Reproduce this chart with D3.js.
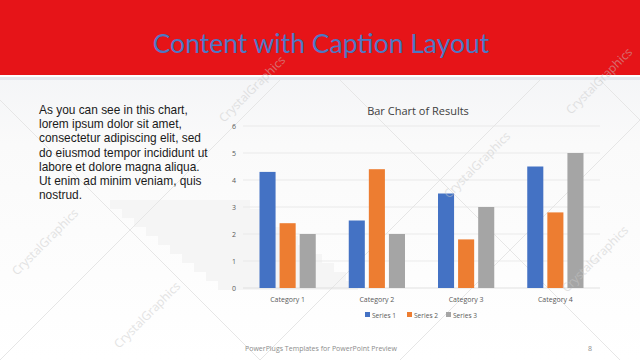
<!DOCTYPE html>
<html><head><meta charset="utf-8">
<script src="https://cdn.jsdelivr.net/npm/d3@7"></script>
<style>html,body{margin:0;padding:0;background:#fff;}svg{display:block;}</style>
</head><body>
<script>
const categories = ["Category 1", "Category 2", "Category 3", "Category 4"];
const seriesNames = ["Series 1", "Series 2", "Series 3"];
const series1 = [4.3, 2.5, 3.5, 4.5];
const series2 = [2.4, 4.4, 1.8, 2.8];
const series3 = [2, 2, 3, 5];
const yTicks = [0, 1, 2, 3, 4, 5, 6];
const colors = ["#4472C4", "#ED7D31", "#A5A5A5"];
const slideTitle = "Content with Caption Layout";
const chartTitle = "Bar Chart of Results";
const bodyLines = ["As you can see in this chart,", "lorem ipsum dolor sit amet,", "consectetur adipiscing elit, sed", "do eiusmod tempor incididunt ut", "labore et dolore magna aliqua.", "Ut enim ad minim veniam, quis", "nostrud."];
const footer = "PowerPlugs Templates for PowerPoint  Preview";
const pageNum = "8";

const W = 640, H = 360;
const svg = d3.select("body").append("svg").attr("width", W).attr("height", H);
const defs = svg.append("defs");
const bg = defs.append("linearGradient").attr("id","bg").attr("x1",0).attr("y1",0).attr("x2",0).attr("y2",1);
bg.append("stop").attr("offset","0%").attr("stop-color","#eef0f4");
bg.append("stop").attr("offset","40%").attr("stop-color","#fafafa");
bg.append("stop").attr("offset","100%").attr("stop-color","#ffffff");
svg.append("rect").attr("width",W).attr("height",H).attr("fill","url(#bg)");

// very faint stair shapes in background
const stairs = svg.append("g").attr("fill","#f5f5f5");
for (let i = 0; i < 10; i++) {
  stairs.append("rect").attr("x", 110 + i*12).attr("y", 200 + i*9).attr("width", 140).attr("height", 9);
}

// faint diagonal lines
const diag = svg.append("g").attr("stroke","#e6e6e6").attr("stroke-width",1);
[[ -60,420, 420,-60],[200,420,640,-20],[0,100,260,360],[260,0,620,360],[520,0,640,120],[400,360,640,120]].forEach(l=>{
  diag.append("line").attr("x1",l[0]).attr("y1",l[1]).attr("x2",l[2]).attr("y2",l[3]);
});

// header
svg.append("rect").attr("x",0).attr("y",0).attr("width",W).attr("height",75).attr("fill","#e61418");
svg.append("rect").attr("x",0).attr("y",75).attr("width",W).attr("height",2).attr("fill","#ffffff");
svg.append("rect").attr("x",0).attr("y",77).attr("width",W).attr("height",3).attr("fill","#e6e8ee");

svg.append("text").attr("x",321).attr("y",53).attr("text-anchor","middle")
  .attr("font-family","Lato, 'Open Sans', sans-serif").attr("font-size",26.5).attr("fill","#4d78c4")
  .text(slideTitle);

// body text
const bt = svg.append("g").attr("font-family","'Liberation Sans', Arial, sans-serif").attr("font-size",11.9).attr("fill","#1a1a1a");
bodyLines.forEach((s,i)=>{
  bt.append("text").attr("x",39).attr("y",114 + i*14.2).text(s);
});

// chart
const x0 = d3.scaleBand().domain(categories).range([243, 600]).paddingInner(0).paddingOuter(0);
const x1 = d3.scaleBand().domain(seriesNames).range([16.5, x0.bandwidth()-16.5]).paddingInner(0.2).paddingOuter(0);
const y = d3.scaleLinear().domain([0,6]).range([288,126]);

const grid = svg.append("g");
grid.selectAll("line").data(yTicks).join("line")
  .attr("x1",243).attr("x2",600).attr("y1",d=>y(d)).attr("y2",d=>y(d))
  .attr("stroke",d=>d===0?"#d9d9d9":"#e6e6e6").attr("stroke-width",0.8);

const yAxis = svg.append("g").attr("transform","translate(236,0)")
  .call(d3.axisLeft(y).tickValues(yTicks).tickSize(0).tickPadding(0).tickFormat(d3.format("d")));
yAxis.select(".domain").remove();
yAxis.selectAll("text").attr("font-family","'Open Sans', sans-serif").attr("font-size",7).attr("fill","#595959").attr("text-anchor","end");

const xAxis = svg.append("g").attr("transform","translate(0,295)")
  .call(d3.axisBottom(x0).tickSize(0).tickPadding(2));
xAxis.select(".domain").remove();
xAxis.selectAll("text").attr("font-family","'Open Sans', sans-serif").attr("font-size",7).attr("fill","#595959");

const all = [series1, series2, series3];
const bars = svg.append("g");
categories.forEach((c,ci)=>{
  seriesNames.forEach((s,si)=>{
    const v = all[si][ci];
    bars.append("rect").attr("x", x0(c)+x1(s)).attr("y", y(v))
      .attr("width", x1.bandwidth()).attr("height", y(0)-y(v)).attr("fill", colors[si]);
  });
});

svg.append("text").attr("x",418).attr("y",115).attr("text-anchor","middle")
  .attr("font-family","'Open Sans', sans-serif").attr("font-size",11).attr("fill","#404040").text(chartTitle);

// legend
const legX = [365, 407, 446];
const leg = svg.append("g");
seriesNames.forEach((s,i)=>{
  leg.append("rect").attr("x",legX[i]).attr("y",312).attr("width",5).attr("height",5).attr("fill",colors[i]);
  leg.append("text").attr("x",legX[i]+7).attr("y",317.5).attr("font-family","'Open Sans', sans-serif")
    .attr("font-size",6.6).attr("fill","#595959").text(s);
});

// watermarks (placed in mostly empty areas)
const wm = [[255,92],[602,84],[48,245],[480,168],[150,318],[598,262]];
const wg = svg.append("g");
wm.forEach(p=>{
  wg.append("text").attr("transform",`translate(${p[0]},${p[1]}) rotate(-45)`).attr("text-anchor","middle")
    .attr("font-family","'Open Sans', sans-serif").attr("font-size",12).attr("fill","#c8c8c8").attr("opacity",0.5)
    .text("CrystalGraphics");
});

// footer
svg.append("text").attr("x",245).attr("y",351).attr("font-family","'Open Sans', sans-serif")
  .attr("font-size",7).attr("fill","#8c8c8c").text(footer);
svg.append("text").attr("x",588).attr("y",351).attr("font-family","'Open Sans', sans-serif")
  .attr("font-size",7).attr("fill","#8c8c8c").text(pageNum);
</script>
</body></html>
